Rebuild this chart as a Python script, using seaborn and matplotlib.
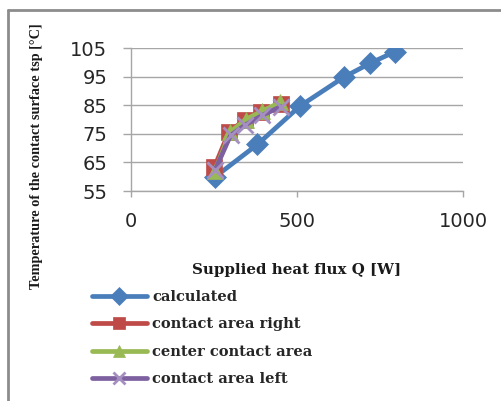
import matplotlib
matplotlib.use("Agg")
import matplotlib.pyplot as plt
from matplotlib.lines import Line2D
import seaborn as sns
import pandas as pd

# ---- data ----
series_names = ["calculated", "contact area right", "center contact area", "contact area left"]
q_calculated = [254, 381, 509, 641, 719, 795]
t_calculated = [60.0, 71.3, 84.7, 94.8, 99.6, 103.7]
q_right = [251, 295, 342, 393, 451]
t_right = [63.3, 75.7, 79.8, 82.7, 85.4]
q_center = [253, 298, 345, 396, 449]
t_center = [62.0, 75.5, 80.0, 83.0, 86.0]
q_left = [254, 300, 343, 396, 451]
t_left = [62.5, 74.5, 78.0, 81.5, 84.5]
x_ticks = [0, 500, 1000]
y_ticks = [55, 65, 75, 85, 95, 105]

colors = ["#4A7EBB", "#BE4B48", "#98B954", "#7D60A0"]
marker_list = ["D", "s", "^", "x"]
msizes = [11.5, 11.5, 11.5, 11]
medge = ["#4A7EBB", "#BE4B48", "#98B954", "#A48FC0"]
mew = [0.5, 0.5, 0.5, 2.0]

sns.set_style("white")
plt.rcParams["font.family"] = ["DejaVu Sans"]

fig = plt.figure(figsize=(5.02, 4.01), dpi=100)
ax = fig.add_axes([131/502, 1-191/401, (463-131)/502, (191-48)/401])

for name, q, t, c, m, ms, me, mw in zip(
        series_names,
        [q_calculated, q_right, q_center, q_left],
        [t_calculated, t_right, t_center, t_left],
        colors, marker_list, msizes, medge, mew):
    d = pd.DataFrame({"Q": q, "T": t})
    sns.lineplot(data=d, x="Q", y="T", color=c, marker=m, markersize=ms,
                 markeredgecolor=me, markerfacecolor=c, markeredgewidth=mw,
                 linewidth=3.4, sort=False, label=name, ax=ax)

ax.set_xlim(0, 1000)
ax.set_ylim(55, 105)
ax.set_xticks(x_ticks)
ax.set_yticks(y_ticks)
ax.set_xlabel("")
ax.set_ylabel("")
ax.grid(axis="y", color="#A6A6A6", linewidth=1.0)
ax.grid(axis="x", visible=False)
for s in ["top", "right"]:
    ax.spines[s].set_visible(False)
for s in ["left", "bottom"]:
    ax.spines[s].set_color("#A6A6A6")
    ax.spines[s].set_linewidth(1.0)
ax.tick_params(axis="y", direction="out", length=6, width=1, color="#A6A6A6",
               pad=11, labelsize=14, labelcolor="#262626", left=True)
ax.tick_params(axis="x", direction="out", length=4, width=1, color="#A6A6A6",
               pad=11, labelsize=14, labelcolor="#262626", bottom=True)

handles, labels = ax.get_legend_handles_labels()
if ax.get_legend() is not None:
    ax.get_legend().remove()
leg = fig.legend(handles, labels, loc="upper left",
                 bbox_to_anchor=(92/502, 1-290/401), frameon=False,
                 borderpad=0, borderaxespad=0, handlelength=3.77,
                 handletextpad=0.34, labelspacing=0.92,
                 prop={"family": "DejaVu Serif", "weight": "bold", "size": 10.5})
for h in leg.legend_handles:
    h.set_linewidth(3.4)
    h.set_markersize(9)

fig.text(297/502, 1-270/401, "Supplied heat flux Q [W]", ha="center", va="center",
         fontsize=10.8, fontweight="bold", family="DejaVu Serif", color="#1a1a1a")
fig.text(37/502, 1-156/401, "Temperature of the contact surface tsp [\u00b0C]",
         ha="center", va="center", rotation=90, fontsize=10.3,
         fontweight="bold", family="Liberation Serif", color="#1a1a1a")

# outer frame (left and top visible)
fig.add_artist(Line2D([8/502, 8/502], [0, 1-10/401], transform=fig.transFigure,
                      color="#8C8C8C", linewidth=2))
fig.add_artist(Line2D([8/502, 1], [1-10/401, 1-10/401], transform=fig.transFigure,
                      color="#8C8C8C", linewidth=2))

fig.savefig("out.png", dpi=100)
